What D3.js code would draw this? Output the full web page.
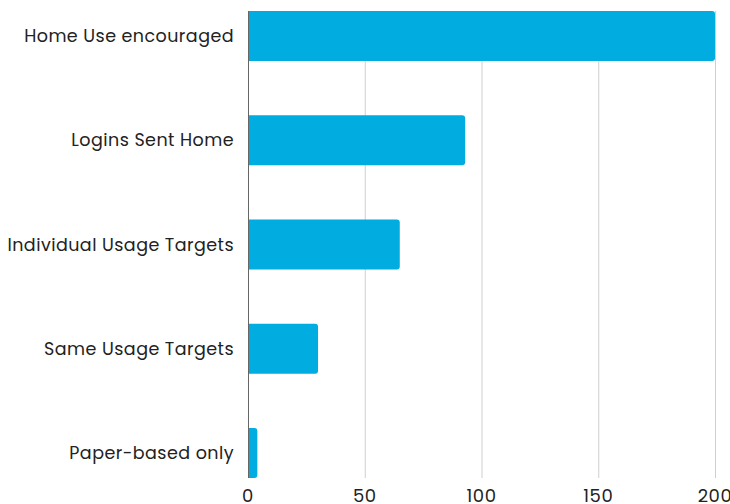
<!DOCTYPE html>
<html>
<head>
<meta charset="utf-8">
<script src="https://cdn.jsdelivr.net/npm/d3@7"></script>
<style>
  body { margin: 0; background: #fff; }
  svg { display: block; font-family: "Poppins", "Open Sans", sans-serif; }
</style>
</head>
<body>
<svg id="chart" width="730" height="504"></svg>
<script>
// data
const categories = ["Home Use encouraged", "Logins Sent Home", "Individual Usage Targets", "Same Usage Targets", "Paper-based only"];
const values = [200, 93, 65, 30, 4];
const xTicks = [0, 50, 100, 150, 200];

const W = 730, H = 504;
const margin = { top: 11, right: 15, bottom: 26, left: 248 };

const svg = d3.select("#chart");

const x = d3.scaleLinear()
  .domain([0, 200])
  .range([margin.left, W - margin.right]);

const y = d3.scaleBand()
  .domain(categories)
  .range([margin.top, H - margin.bottom])
  .paddingInner(0.52)
  .paddingOuter(0);

// vertical gridlines
svg.append("g")
  .selectAll("line")
  .data(xTicks.slice(1))
  .join("line")
    .attr("x1", d => x(d) + 0.5)
    .attr("x2", d => x(d) + 0.5)
    .attr("y1", margin.top)
    .attr("y2", H - margin.bottom)
    .attr("stroke", "#cfcfcf")
    .attr("stroke-width", 1);

// bars, slightly rounded on the right end
const r = 3;
svg.append("g")
  .selectAll("path")
  .data(categories)
  .join("path")
    .attr("fill", "#00ace0")
    .attr("d", (d, i) => {
      const x0 = x(0), x1 = x(values[i]), y0 = y(d), h = y.bandwidth();
      const rr = Math.min(r, (x1 - x0) / 2);
      return `M${x0},${y0}H${x1 - rr}Q${x1},${y0} ${x1},${y0 + rr}V${y0 + h - rr}Q${x1},${y0 + h} ${x1 - rr},${y0 + h}H${x0}Z`;
    });

// y axis line
svg.append("line")
  .attr("x1", x(0) + 0.5)
  .attr("x2", x(0) + 0.5)
  .attr("y1", margin.top)
  .attr("y2", H - margin.bottom)
  .attr("stroke", "#666")
  .attr("stroke-width", 1);

// category labels
svg.append("g")
  .selectAll("text")
  .data(categories)
  .join("text")
    .attr("x", 234)
    .attr("y", d => y(d) + y.bandwidth() / 2)
    .attr("dy", "0.35em")
    .attr("text-anchor", "end")
    .attr("font-size", 17.5)
    .attr("letter-spacing", 0.45)
    .attr("fill", "#222")
    .text(d => d);

// x tick labels
svg.append("g")
  .selectAll("text")
  .data(xTicks)
  .join("text")
    .attr("x", d => x(d))
    .attr("y", 496)
    .attr("dy", "0.35em")
    .attr("text-anchor", "middle")
    .attr("font-size", 18)
    .attr("letter-spacing", 0.5)
    .attr("fill", "#222")
    .text(d => d);
</script>
</body>
</html>
